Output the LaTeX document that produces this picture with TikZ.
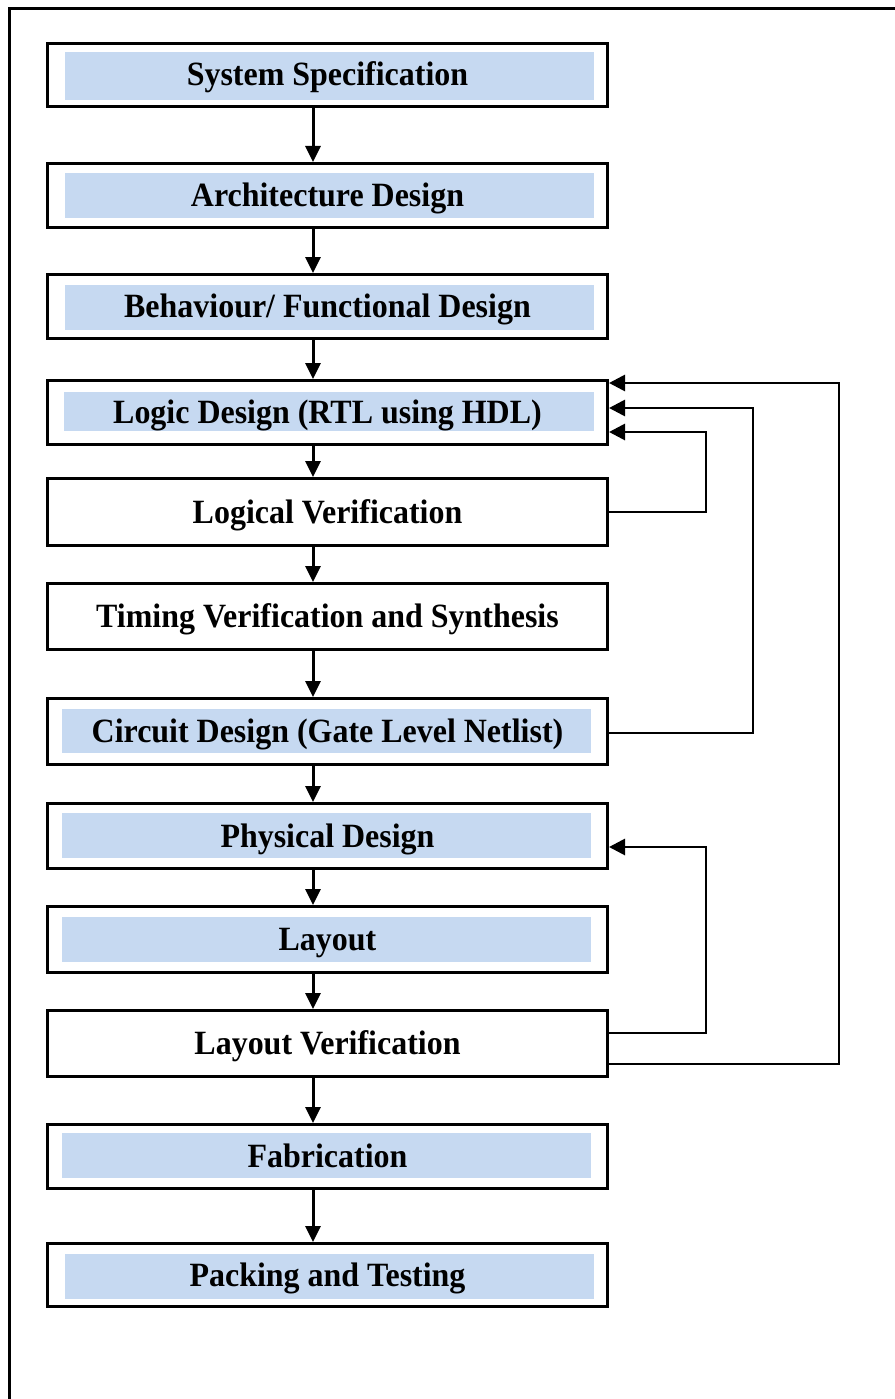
\documentclass[tikz,border=0pt]{standalone}
\usepackage{fontspec}
\setmainfont{Liberation Serif}[FakeStretch=0.94]
\usetikzlibrary{arrows.meta}
\definecolor{stagefill}{HTML}{C6D9F1}

\begin{document}
\begin{tikzpicture}[x=1pt,y=-1pt,
  stage/.style={draw, line width=3pt, minimum width=560pt, inner sep=0pt,
    text height=23pt, text depth=1pt,
    font=\fontsize{34}{40}\selectfont\bfseries},
  band/.style n args={4}{path picture={
    \fill[stagefill]
      ([xshift=#1pt,yshift=-#3pt]path picture bounding box.north west)
      rectangle
      ([xshift=-#2pt,yshift=#4pt]path picture bounding box.south east);}},
  flow/.style={line width=3pt, -{Triangle[width=15pt,length=16pt]}},
  fb/.style={line width=2.8pt, -{Triangle[width=16pt,length=16pt]}}]

  \useasboundingbox (0,0) rectangle (894,1399);

  % page frame
  \draw[line width=3pt] (9.7,1420) -- (9.7,8.7) -- (920,8.7);

  % design stages
  \node[stage, minimum height=63pt, band={17.5}{13.5}{8.5}{6.5}]   (s1)  at (327.5,75)     {System Specification};
  \node[stage, minimum height=64pt, band={17.5}{13.5}{9.5}{9.5}]   (s2)  at (327.5,195.5)  {Architecture Design};
  \node[stage, minimum height=64pt, band={17.5}{13.5}{10.5}{8.5}]  (s3)  at (327.5,306.5)  {Behaviour/ Functional Design};
  \node[stage, minimum height=64pt, band={16.5}{13.5}{11.5}{13.5}] (s4)  at (327.5,412.5)  {Logic Design (RTL using HDL)};
  \node[stage, minimum height=67pt]                                (s5)  at (327.5,512)    {Logical Verification};
  \node[stage, minimum height=66pt]                                (s6)  at (327.5,616.5)  {Timing Verification and Synthesis};
  \node[stage, minimum height=66pt, band={14.5}{16.5}{10.5}{11.5}] (s7)  at (327.5,731.5)  {Circuit Design (Gate Level Netlist)};
  \node[stage, minimum height=65pt, band={14.5}{16.5}{9.5}{10.5}]  (s8)  at (327.5,836)    {Physical Design};
  \node[stage, minimum height=66pt, band={14.5}{16.5}{10.5}{10.5}] (s9)  at (327.5,939.5)  {Layout};
  \node[stage, minimum height=66pt]                                (s10) at (327.5,1043.5) {Layout Verification};
  \node[stage, minimum height=64pt, band={14.5}{16.5}{8.5}{10.5}]  (s11) at (327.5,1156.5) {Fabrication};
  \node[stage, minimum height=63pt, band={17.5}{13.5}{10.5}{7.5}]  (s12) at (327.5,1275)   {Packing and Testing};

  % main flow
  \coordinate (spine) at (313,0);
  \foreach \a/\b in {s1/s2,s2/s3,s3/s4,s4/s5,s5/s6,s6/s7,s7/s8,s8/s9,s9/s10,s10/s11,s11/s12}
    \draw[flow] (\a.south -| spine) -- (\b.north -| spine);

  % feedback loops
  \draw[fb] (s5.east) -- ++(97,0) |- ([yshift=-19.5pt]s4.east);
  \draw[fb] ([yshift=-1.5pt]s7.east) -- ++(144,0) |- ([yshift=4.5pt]s4.east);
  \draw[fb] ([yshift=10.5pt]s10.east) -- ++(97,0) |- ([yshift=-11pt]s8.east);
  \draw[fb] ([yshift=-20.5pt]s10.east) -- ++(230,0) |- ([yshift=29.5pt]s4.east);
\end{tikzpicture}
\end{document}
